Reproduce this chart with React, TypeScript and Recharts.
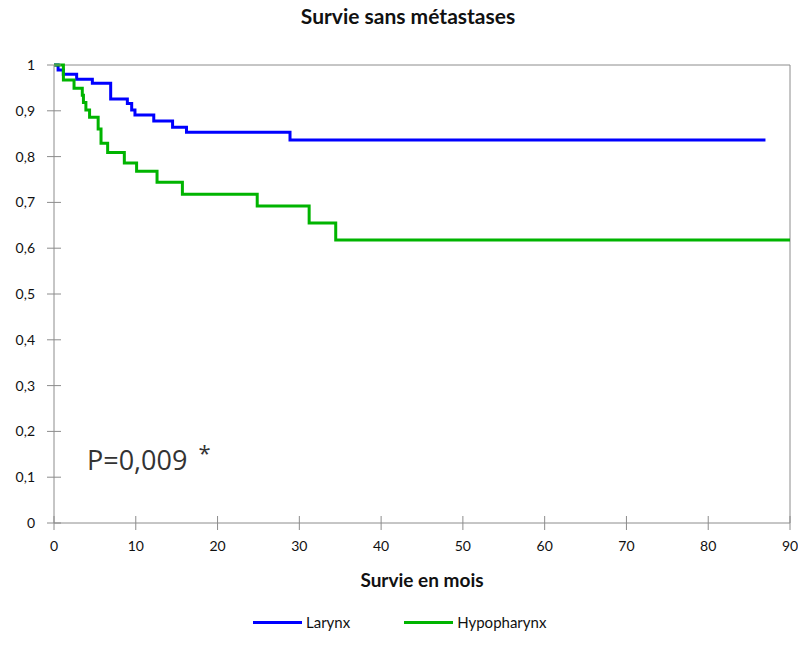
import { LineChart, Line, XAxis, YAxis, ReferenceLine } from "recharts"

// Survie sans métastases (Kaplan-Meier)
const larynxMonths = [0, 0.5, 1.14, 2.77, 4.69, 6.93, 8.97, 9.5, 9.9, 12.2, 14.5, 16.2, 28.86, 87]
const larynxSurvival = [1, 0.989, 0.98, 0.969, 0.96, 0.926, 0.916, 0.902, 0.891, 0.878, 0.864, 0.853, 0.836, 0.836]

const hypoMonths = [0, 1.15, 2.45, 3.46, 3.6, 3.9, 4.35, 5.4, 5.75, 6.56, 8.6, 10.1, 12.6, 15.7, 24.85, 31.2, 34.45, 90]
const hypoSurvival = [1, 0.967, 0.949, 0.934, 0.918, 0.902, 0.886, 0.86, 0.829, 0.809, 0.786, 0.768, 0.744, 0.718, 0.692, 0.655, 0.618, 0.618]

const xTicks = [0, 10, 20, 30, 40, 50, 60, 70, 80, 90]
const yTicks = [0, 0.1, 0.2, 0.3, 0.4, 0.5, 0.6, 0.7, 0.8, 0.9, 1]

const FONT = "Lato, 'Open Sans', sans-serif"
const AXIS = "#8c8c8c"
const BLUE = "#0000ff"
const GREEN = "#00b400"

const larynxData = larynxMonths.map((t, i) => ({ t, s: larynxSurvival[i] }))
const hypoData = hypoMonths.map((t, i) => ({ t, s: hypoSurvival[i] }))

const frNum = (v: number) => String(Math.round(v * 10) / 10).replace(".", ",")

// ticks cross the axis line, like in Excel
function YTick(props: any) {
  const { x, y, payload } = props
  return (
    <g>
      <line x1={x + 12} x2={x + 26} y1={y} y2={y} stroke={AXIS} />
      <text x={x} y={y} dy="0.35em" textAnchor="end" fontSize={14} fontFamily={FONT} fill="#111">
        {frNum(payload.value)}
      </text>
    </g>
  )
}

function XTick(props: any) {
  const { x, y, payload } = props
  return (
    <g>
      <line x1={x} x2={x} y1={y - 25} y2={y - 11} stroke={AXIS} />
      <text x={x} y={y} dy="0.71em" textAnchor="middle" fontSize={14} fontFamily={FONT} fill="#111">
        {payload.value}
      </text>
    </g>
  )
}

export default function App() {
  return (
    <div style={{ position: "absolute", left: 0, top: 0, width: 798, height: 663, background: "#fff" }}>
      <div
        style={{
          position: "absolute", left: 0, top: 3, width: 816, textAlign: "center",
          fontFamily: FONT, fontWeight: 700, fontSize: 21, color: "#111",
        }}
      >
        Survie sans métastases
      </div>

      <LineChart width={798} height={663} margin={{ top: 65, right: 8, bottom: 110, left: 0 }}>
        <XAxis
          type="number"
          dataKey="t"
          domain={[0, 90]}
          ticks={xTicks}
          allowDataOverflow
          height={30}
          stroke={AXIS}
          tickLine={false}
          tickSize={7}
          tickMargin={11}
          tick={<XTick />}
        />
        <YAxis
          type="number"
          dataKey="s"
          domain={[0, 1]}
          ticks={yTicks}
          width={54}
          stroke={AXIS}
          tickLine={false}
          tickSize={7}
          tickMargin={12}
          tick={<YTick />}
        />
        <ReferenceLine y={1} stroke={AXIS} />
        <ReferenceLine x={90} stroke={AXIS} />
        <Line
          data={larynxData}
          dataKey="s"
          name="Larynx"
          type="stepAfter"
          stroke={BLUE}
          strokeWidth={3}
          dot={false}
          activeDot={false}
          isAnimationActive={false}
        />
        <Line
          data={hypoData}
          dataKey="s"
          name="Hypopharynx"
          type="stepAfter"
          stroke={GREEN}
          strokeWidth={3}
          dot={false}
          activeDot={false}
          isAnimationActive={false}
        />
      </LineChart>

      <div
        style={{
          position: "absolute", left: 87, top: 441, fontFamily: "'Open Sans', sans-serif",
          fontSize: 27, color: "#333", whiteSpace: "nowrap",
        }}
      >
        P=0,009 <span style={{ position: "relative", top: -9, fontSize: 22, marginLeft: 4 }}>*</span>
      </div>

      <div
        style={{
          position: "absolute", left: 0, top: 568, width: 844, textAlign: "center",
          fontFamily: FONT, fontWeight: 700, fontSize: 19, color: "#111",
        }}
      >
        Survie en mois
      </div>

      <div
        style={{
          position: "absolute", left: 253, top: 613, display: "flex", alignItems: "center",
          fontFamily: FONT, fontSize: 15, color: "#111",
        }}
      >
        <span style={{ width: 49, height: 3, background: BLUE, display: "inline-block", marginRight: 4 }} />
        <span style={{ marginRight: 54 }}>Larynx</span>
        <span style={{ width: 49, height: 3, background: GREEN, display: "inline-block", marginRight: 4 }} />
        <span>Hypopharynx</span>
      </div>
    </div>
  )
}
